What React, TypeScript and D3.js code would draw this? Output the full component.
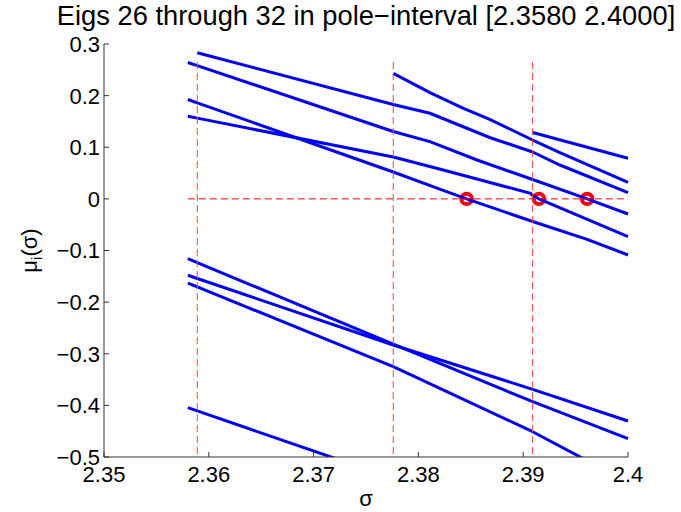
import React from 'react';
import * as d3 from 'd3';

const W = 681;
const H = 512;

// axis domains and ticks
const xDomain: [number, number] = [2.35, 2.4];
const yDomain: [number, number] = [-0.5, 0.3];
const xTicks = [2.35, 2.36, 2.37, 2.38, 2.39, 2.4];
const xTickLabels = ['2.35', '2.36', '2.37', '2.38', '2.39', '2.4'];
const yTicks = [0.3, 0.2, 0.1, 0, -0.1, -0.2, -0.3, -0.4, -0.5];
const yTickLabels = ['0.3', '0.2', '0.1', '0', '\u22120.1', '\u22120.2', '\u22120.3', '\u22120.4', '\u22120.5'];

const titleText = 'Eigs 26 through 32 in pole\u2212interval [2.3580 2.4000]';

// pole-interval and poles
const interval: [number, number] = [2.358, 2.4];
const poles = [2.3589, 2.3776, 2.3909];
const poleLineTop = 0.265;
const zeroCrossings = [2.3846, 2.3915, 2.3961];

// eigenvalue branches [sigma, mu]
const eigA: [number, number][] = [[2.3589, 0.2831], [2.3776, 0.1828], [2.3811, 0.1658], [2.3868, 0.1189], [2.3909, 0.0908], [2.3935, 0.0656], [2.4, 0.012]];
const eigB: [number, number][] = [[2.3776, 0.2432], [2.3811, 0.2057], [2.3843, 0.1754], [2.3868, 0.1541], [2.3909, 0.114], [2.3935, 0.0898], [2.4, 0.0321]];
const eigC: [number, number][] = [[2.3909, 0.1286], [2.4, 0.0786]];
const eigD: [number, number][] = [[2.358, 0.2642], [2.3589, 0.2581], [2.3776, 0.1305], [2.3811, 0.1108], [2.3856, 0.0753], [2.3909, 0.0375], [2.3961, 0.0], [2.4, -0.0293]];
const eigE: [number, number][] = [[2.358, 0.1925], [2.3589, 0.1861], [2.3776, 0.0521], [2.3821, 0.0185], [2.3846, 0.0], [2.3909, -0.0438], [2.3961, -0.0783], [2.4, -0.1087]];
const eigF: [number, number][] = [[2.358, 0.16], [2.3589, 0.1564], [2.3776, 0.0811], [2.3821, 0.0573], [2.3907, 0.0108], [2.3909, 0.0062], [2.3915, 0.0], [2.4, -0.0733]];
const eigG: [number, number][] = [[2.358, -0.1159], [2.3589, -0.1234], [2.3776, -0.2815], [2.3909, -0.3929], [2.4, -0.4645]];
const eigH: [number, number][] = [[2.358, -0.148], [2.3589, -0.1542], [2.3776, -0.2830], [2.3909, -0.3689], [2.4, -0.4303]];
const eigI: [number, number][] = [[2.358, -0.163], [2.3589, -0.1704], [2.3776, -0.3251], [2.3909, -0.451], [2.3955, -0.5006], [2.4, -0.548]];
const eigJ: [number, number][] = [[2.358, -0.4045], [2.3589, -0.4108], [2.3776, -0.5414]];

const branches = [eigA, eigB, eigC, eigD, eigE, eigF, eigG, eigH, eigI, eigJ];

const FONT = 'Liberation Sans, Arial, Helvetica, sans-serif';

export default function App() {
  const left = 104, right = 628, top = 44, bottom = 457;
  const x = d3.scaleLinear().domain(xDomain).range([left, right]);
  const y = d3.scaleLinear().domain(yDomain).range([bottom, top]);
  const line = d3.line<[number, number]>().x(d => x(d[0])).y(d => y(d[1]));

  const bounds = [interval[0], ...poles, interval[1]];
  const pieces: [number, number][][] = [];
  branches.forEach(b => {
    for (let k = 0; k < bounds.length - 1; k++) {
      const a = bounds[k] - 1e-7, c = bounds[k + 1] + 1e-7;
      const pts = b.filter(p => p[0] >= a && p[0] <= c);
      if (pts.length >= 2) pieces.push(pts);
    }
  });

  const tickLen = 5;
  const fs = 22;

  return (
    <svg width={W} height={H} style={{ position: 'absolute', left: 0, top: 0, background: '#fff' }} fontFamily={FONT}>
      <defs>
        <clipPath id="plotclip">
          <rect x={left} y={top - 20} width={right - left + 4} height={bottom - top + 20} />
        </clipPath>
      </defs>
      <rect x={0} y={0} width={W} height={H} fill="#fff" />

      {/* title */}
      <text x={(left + right) / 2} y={25} textAnchor="middle" fontSize={27.3} fill="#000">{titleText}</text>

      <g clipPath="url(#plotclip)">
        {/* zero-crossing markers */}
        {zeroCrossings.map((s, i) => (
          <circle key={'z' + i} cx={x(s)} cy={y(0)} r={5.2} fill="none" stroke="#ff0000" strokeWidth={4} />
        ))}
        {/* eigen branches */}
        {pieces.map((p, i) => (
          <path key={'b' + i} d={line(p) || ''} fill="none" stroke="#0000ff" strokeWidth={3} />
        ))}
        {/* pole lines */}
        {poles.map((p, i) => (
          <line key={'p' + i} x1={x(p)} x2={x(p)} y1={y(poleLineTop)} y2={y(yDomain[0])} stroke="#ff4040" strokeWidth={1} strokeDasharray="7,4" />
        ))}
        <line x1={x(interval[0])} x2={x(interval[1])} y1={y(0)} y2={y(0)} stroke="#ff0000" strokeWidth={1} strokeDasharray="7,4" />
      </g>

      {/* axes */}
      <line x1={left} x2={left} y1={top} y2={bottom} stroke="#333" strokeWidth={1} />
      <line x1={left} x2={right} y1={bottom} y2={bottom} stroke="#333" strokeWidth={1} />
      {xTicks.map((t, i) => (
        <g key={'xt' + i}>
          <line x1={x(t)} x2={x(t)} y1={bottom} y2={bottom - tickLen} stroke="#333" strokeWidth={1} />
          <text x={x(t)} y={482} textAnchor="middle" fontSize={fs} fill="#000">{xTickLabels[i]}</text>
        </g>
      ))}
      {yTicks.map((t, i) => (
        <g key={'yt' + i}>
          <line x1={left} x2={left + tickLen} y1={y(t)} y2={y(t)} stroke="#333" strokeWidth={1} />
          <text x={100} y={y(t)} dy="0.36em" textAnchor="end" fontSize={fs} fill="#000">{yTickLabels[i]}</text>
        </g>
      ))}

      {/* axis labels */}
      <text x={(left + right) / 2} y={506} textAnchor="middle" fontSize={fs} fill="#000">σ</text>
      <text transform={`translate(37,${(top + bottom) / 2}) rotate(-90)`} textAnchor="middle" fontSize={fs} fill="#000">
        μ<tspan fontSize={15} dy={5}>i</tspan><tspan dy={-5}>(σ)</tspan>
      </text>
    </svg>
  );
}
